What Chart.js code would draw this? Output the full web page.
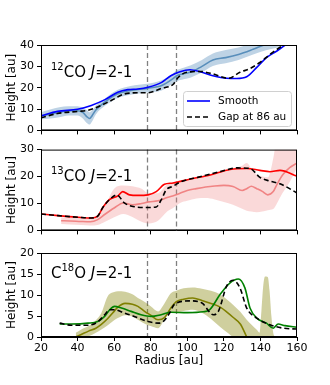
<!DOCTYPE html>
<html>
<head>
<meta charset="utf-8">
<script src="https://cdn.jsdelivr.net/npm/chart.js@4"></script>
<style>
  body { margin: 0; background: #fff; }
  #wrap { position: relative; width: 330px; height: 385px; }
  canvas { position: absolute; left: 0; }
</style>
</head>
<body>
<div id="wrap">
  <canvas id="p1" width="330" height="140" style="top:0px"></canvas>
  <canvas id="p2" width="330" height="100" style="top:140px"></canvas>
  <canvas id="p3" width="330" height="145" style="top:240px"></canvas>
</div>
<script>
// x ticks and gap edges
const radiusTicks = [20, 40, 60, 80, 100, 120, 140, 160];
const gapEdges = [78, 94];

// 12CO J=2-1
const co12SmoothR = [20, 29, 40, 47.5, 55, 62, 67.5, 73, 78.5, 86, 91, 96, 101.5, 107, 114, 121.5, 127, 132.5, 138, 143.3, 149, 153.4, 158];
const co12SmoothH = [6.8, 8.9, 9.9, 11.7, 14.4, 17.9, 19.1, 19.4, 20.2, 22.5, 25.6, 27.5, 28.4, 27.5, 25.6, 24.4, 24.3, 25.1, 29.5, 34.1, 37.2, 39.8, 42];
const co12GapR = [20, 29, 40, 45.7, 51, 58.4, 65.8, 73, 78.5, 85.8, 92.2, 95, 99.7, 107, 114.2, 122.4, 128.8, 134.3, 139.7, 145.2, 152.5, 158];
const co12GapH = [5.9, 7.9, 8.9, 9.4, 11, 14, 17.1, 17.6, 17.6, 19.7, 21.5, 24.8, 27.2, 27.6, 26.4, 24.4, 27.2, 29, 31.8, 35.6, 39.8, 42];
const co12BandR = [20, 25, 30, 35, 40, 43, 45, 46.6, 48, 50, 55, 62, 69, 78, 86, 92, 94, 98, 102, 108, 114, 121, 128, 136, 143, 150, 155, 160];
const co12BandMid = [6.8, 7.6, 8.4, 9.2, 9.2, 8.3, 6.5, 5.6, 7, 9.6, 13.3, 17.1, 18.7, 19.7, 21, 24.1, 25.5, 26.5, 27.3, 30, 33, 34.1, 35.6, 38, 40.3, 41.5, 42.5, 43];
const co12BandHigh = [8.5, 9.8, 10.8, 11.3, 11.3, 10.5, 9.5, 8.5, 9.5, 11.5, 15, 19, 20.8, 21.8, 23.5, 26.5, 28, 29.3, 30.5, 33, 36, 37.6, 38.8, 41, 43, 44, 45, 45];
const co12BandLow = [5.2, 5.6, 6.2, 7, 7, 5.5, 3.5, 2.8, 4.3, 7.5, 11.5, 15.2, 16.7, 17.7, 18.7, 21.8, 23, 24, 24.8, 27.2, 30.2, 31.5, 33, 35.5, 37.5, 39, 40, 41];

// 13CO J=2-1
const co13SmoothR = [20, 29.3, 40.2, 47.5, 51, 53.8, 57.4, 62, 64.7, 68.4, 73, 78.5, 83, 87.5, 92.2, 101.7, 112.6, 123.4, 132.5, 139.7, 145.2, 150.7, 159.8];
const co13SmoothH = [6.1, 5.5, 4.9, 4.6, 5.3, 8.5, 11.4, 12.8, 14.4, 13.2, 13, 13.2, 14.4, 17.1, 17.6, 19.1, 20.6, 22.6, 23, 22.3, 21.8, 22.3, 20.2];
const co13GapR = [20, 29.3, 40.2, 47.5, 51, 53.8, 57.4, 61.5, 65.6, 71, 78.5, 83, 85.8, 88.4, 92.2, 96, 107, 117.9, 127, 134.3, 139.7, 145.2, 150.7, 159.8];
const co13GapH = [6.1, 5.5, 4.9, 4.6, 5.3, 8.5, 11.4, 13.2, 10.2, 8.8, 8.5, 8.7, 11.4, 15, 16.4, 17.9, 19.9, 21.8, 23.2, 23, 19.7, 18.3, 17.3, 14];
const co13BandR = [31, 36, 42, 47, 51, 55, 60, 65, 70, 75, 79, 84, 89, 92, 96, 100, 105, 110, 115, 120, 125, 130, 132.5, 135, 138, 141, 144, 147, 149, 152, 156, 160];
const co13BandMid = [3.6, 3.5, 3.3, 3.2, 4, 6, 8.3, 10.2, 9.5, 10, 10.6, 11, 12.2, 12.8, 13.8, 14.8, 15.5, 16.1, 16.5, 16.7, 16.3, 14.8, 15.5, 16.4, 15.5, 14.5, 13.2, 14.4, 17, 20.5, 23.3, 25];
const co13BandHigh = [4.8, 4.8, 4.5, 4.3, 5.2, 9.2, 15.5, 16.7, 16.4, 15.5, 13.8, 13.8, 17, 17.5, 18, 18.8, 19.8, 20.6, 21.2, 22, 23, 24, 25, 23, 20.8, 20, 19.7, 26.7, 35, 40, 40, 40];
const co13BandLow = [2.4, 2.2, 2, 1.8, 2, 3.2, 4.9, 6.1, 5, 3.2, 2.6, 3.6, 7, 8.2, 10.2, 11, 11.8, 12, 11.5, 10.5, 9.5, 8, 7.3, 7, 6.7, 7, 7.5, 7.9, 10, 13.8, 18, 23.2];

// C18O J=2-1
const c18oSmoothR = [30.2, 36.6, 45.7, 51, 54.8, 57.6, 60.2, 64, 69.3, 74.7, 80.2, 85.7, 91.2, 100, 108.7, 112.3, 117.9, 123.4, 127.9, 131.5, 134.3, 138, 143.3, 147, 149.7, 153.4, 160];
const c18oSmoothH = [3.1, 3.1, 3.3, 3.7, 4.9, 6.5, 7.3, 6.9, 6.1, 5.3, 4.9, 5.3, 5.9, 5.8, 6, 6.5, 10.1, 12.9, 13.8, 11.7, 6.9, 4.5, 3.3, 2.1, 3.1, 2.7, 2.3];
const c18oGapR = [30.2, 36.6, 45.7, 51, 54.8, 57.6, 60.2, 65.6, 71, 78.5, 84, 86.6, 90.3, 93, 101.7, 108, 114.2, 117, 121.5, 125, 128.8, 132.5, 138, 145.2, 152.5, 160];
const c18oGapH = [3.3, 2.8, 2.8, 3.6, 5.3, 6.5, 6.5, 5.7, 4.9, 3.7, 3.3, 3.6, 5.7, 7.8, 8.6, 8.1, 5.3, 6.1, 12.1, 13.5, 11.7, 6.9, 4.5, 2.9, 2.1, 1.9];
const c18oBandR = [39, 42, 46, 50, 53, 56.5, 60, 62, 66, 70, 73, 77, 80, 84, 87.5, 91, 94, 98, 103, 108, 113, 118, 122, 125, 129, 132.5, 135, 138, 139.5, 140.5, 141.5, 142.5, 144, 145, 146, 147, 148];
const c18oBandMid = [0, 0.6, 1.4, 2.1, 3, 4.4, 6.1, 7.1, 8, 7.8, 7.3, 6, 5.2, 4.1, 4.6, 6.9, 8.4, 9, 9.3, 8.7, 8, 7.1, 5.8, 4.7, 3.1, 0, null, null, null, null, null, null, null, null, null, null, null];
const c18oBandHigh = [1, 1.8, 2.6, 4, 5.7, 9.7, 10.7, 10.9, 10.8, 10.2, 9.3, 8.3, 7.3, 6.1, 8, 10.4, 11, 11.6, 11.8, 11.5, 11, 10.1, 8.8, 7.7, 6, 4.1, 3, 1.7, 1, 6, 12, 14.4, 14.3, 11, 5, 1, 0];
const c18oBandLow = [0, 0, 0.2, 1, 1.8, 2.8, 4, 4.5, 5.2, 4.9, 4.1, 3.1, 2.6, 2.1, 4.1, 6, 5.8, 6.2, 6.5, 5.8, 4.3, 2.4, 1, 0.1, 0, 0, 0, 0, 0, 0, 0, 0, 0, 0, 0, 0, 0];

const FONT = "'DejaVu Sans', sans-serif";

function pts(xs, ys) {
  return xs.map((x, i) => ({ x: x, y: ys[i] }));
}

// black frame, gap lines, panel label and (optionally) legend
const panelDecor = {
  id: 'panelDecor',
  beforeDatasetsDraw(chart) {
    const ctx = chart.ctx;
    const a = chart.chartArea;
    const xs = chart.scales.x;
    ctx.save();
    ctx.strokeStyle = '#808080';
    ctx.lineWidth = 1.3;
    ctx.setLineDash([5, 3]);
    gapEdges.forEach(r => {
      const px = Math.round(xs.getPixelForValue(r)) + 0.5;
      ctx.beginPath();
      ctx.moveTo(px, a.top);
      ctx.lineTo(px, a.bottom);
      ctx.stroke();
    });
    ctx.restore();
  },
  afterDatasetsDraw(chart, args, opts) {
    const ctx = chart.ctx;
    const a = chart.chartArea;
    ctx.save();
    ctx.strokeStyle = '#000';
    ctx.lineWidth = 1;
    ctx.strokeRect(a.left + 0.5, a.top + 0.5, a.right - a.left - 1, a.bottom - a.top - 1);

    // label like 12CO J=2-1
    let x = a.left + 10;
    const y = a.top + opts.labelDy;
    ctx.fillStyle = '#000';
    ctx.textBaseline = 'alphabetic';
    opts.label.forEach(p => {
      if (p.sup) {
        ctx.font = '10px ' + FONT;
        ctx.fillText(p.t, x, y - 7);
      } else if (p.it) {
        ctx.font = 'italic 15px ' + FONT;
        ctx.fillText(p.t, x, y);
      } else {
        ctx.font = '15px ' + FONT;
        ctx.fillText(p.t, x, y);
      }
      x += ctx.measureText(p.t).width;
    });

    if (opts.legend) {
      const lx = 183, ly = a.top + 46, lw = 108, lh = 35;
      ctx.fillStyle = 'rgba(255,255,255,0.85)';
      ctx.strokeStyle = '#d0d0d0';
      ctx.lineWidth = 1;
      ctx.beginPath();
      ctx.roundRect(lx + 0.5, ly + 0.5, lw, lh, 3);
      ctx.fill();
      ctx.stroke();
      const items = [
        { t: 'Smooth', c: '#0000ff', dash: [] },
        { t: 'Gap at 86 au', c: '#000', dash: [5, 3] }
      ];
      ctx.font = '10.5px ' + FONT;
      ctx.textBaseline = 'middle';
      items.forEach((it, i) => {
        const yy = ly + 10 + i * 16;
        ctx.strokeStyle = it.c;
        ctx.lineWidth = 1.6;
        ctx.setLineDash(it.dash);
        ctx.beginPath();
        ctx.moveTo(lx + 4, yy);
        ctx.lineTo(lx + 27, yy);
        ctx.stroke();
        ctx.setLineDash([]);
        ctx.fillStyle = '#000';
        ctx.fillText(it.t, lx + 35, yy);
      });
    }
    ctx.restore();
  }
};

function makePanel(id, cfg) {
  const lineBase = { pointRadius: 0, borderWidth: 1.6, cubicInterpolationMode: 'monotone', fill: false };
  const datasets = [
    Object.assign({}, lineBase, { label: 'gap', data: pts(cfg.gapR, cfg.gapH), borderColor: '#000', borderDash: [5, 3], order: 0 }),
    Object.assign({}, lineBase, { label: 'smooth', data: pts(cfg.smoothR, cfg.smoothH), borderColor: cfg.color, order: 1 }),
    Object.assign({}, lineBase, { label: 'mid', data: pts(cfg.bandR, cfg.bandMid), borderColor: cfg.midColor, order: 2, spanGaps: false }),
    Object.assign({}, lineBase, { label: 'high', data: pts(cfg.bandR, cfg.bandHigh), borderWidth: 0, borderColor: 'rgba(0,0,0,0)', backgroundColor: cfg.fillColor, fill: 4, order: 3 }),
    Object.assign({}, lineBase, { label: 'low', data: pts(cfg.bandR, cfg.bandLow), borderWidth: 0, borderColor: 'rgba(0,0,0,0)', order: 4 })
  ];
  return new Chart(document.getElementById(id), {
    type: 'line',
    data: { datasets: datasets },
    plugins: [panelDecor],
    options: {
      responsive: false,
      animation: false,
      layout: { padding: { top: cfg.padTop, right: 33, left: 0, bottom: 0 } },
      plugins: {
        legend: { display: false },
        tooltip: { enabled: false },
        panelDecor: { label: cfg.label, labelDy: cfg.labelDy, legend: cfg.legend }
      },
      scales: {
        x: {
          type: 'linear',
          min: 20, max: 160,
          afterFit: s => { s.height = cfg.xHeight; },
          afterBuildTicks: s => { s.ticks = radiusTicks.map(v => ({ value: v })); },
          grid: { display: true, drawOnChartArea: false, tickLength: 4, color: '#000', tickWidth: 1 },
          border: { display: true, color: '#000', width: 1 },
          ticks: {
            display: cfg.showX,
            color: '#000',
            padding: 1,
            maxRotation: 0,
            font: { family: FONT, size: 11 }
          },
          title: {
            display: cfg.showX,
            text: 'Radius [au]',
            color: '#000',
            font: { family: FONT, size: 12 },
            padding: { top: 0, bottom: 17 }
          }
        },
        y: {
          min: 0, max: cfg.yMax,
          afterFit: s => { s.width = 41; },
          afterBuildTicks: s => { s.ticks = cfg.yTicks.map(v => ({ value: v })); },
          grid: { display: true, drawOnChartArea: false, tickLength: 4, color: '#000', tickWidth: 1 },
          border: { display: true, color: '#000', width: 1 },
          ticks: {
            color: '#000',
            padding: 3,
            font: { family: FONT, size: 11 }
          },
          title: {
            display: true,
            text: 'Height [au]',
            color: '#000',
            font: { family: FONT, size: 12 },
            padding: { top: 5, bottom: 0 }
          }
        }
      }
    }
  });
}

makePanel('p1', {
  smoothR: co12SmoothR, smoothH: co12SmoothH, gapR: co12GapR, gapH: co12GapH,
  bandR: co12BandR, bandMid: co12BandMid, bandHigh: co12BandHigh, bandLow: co12BandLow,
  color: '#0000ff', midColor: 'rgba(70,130,180,0.85)', fillColor: 'rgba(70,130,180,0.35)',
  yMax: 40, yTicks: [0, 10, 20, 30, 40], padTop: 45, xHeight: 9, showX: false,
  label: [{ t: '12', sup: true }, { t: 'CO ' }, { t: 'J', it: true }, { t: '=2-1' }], labelDy: 32,
  legend: true
});

makePanel('p2', {
  smoothR: co13SmoothR, smoothH: co13SmoothH, gapR: co13GapR, gapH: co13GapH,
  bandR: co13BandR, bandMid: co13BandMid, bandHigh: co13BandHigh, bandLow: co13BandLow,
  color: '#ff0000', midColor: 'rgba(240,128,128,0.95)', fillColor: 'rgba(240,128,128,0.3)',
  yMax: 30, yTicks: [0, 10, 20, 30], padTop: 9, xHeight: 6, showX: false,
  label: [{ t: '13', sup: true }, { t: 'CO ' }, { t: 'J', it: true }, { t: '=2-1' }], labelDy: 31,
  legend: false
});

makePanel('p3', {
  smoothR: c18oSmoothR, smoothH: c18oSmoothH, gapR: c18oGapR, gapH: c18oGapH,
  bandR: c18oBandR, bandMid: c18oBandMid, bandHigh: c18oBandHigh, bandLow: c18oBandLow,
  color: '#008000', midColor: '#808000', fillColor: 'rgba(128,128,0,0.38)',
  yMax: 20, yTicks: [0, 5, 10, 15, 20], padTop: 13, xHeight: 48, showX: true,
  label: [{ t: 'C' }, { t: '18', sup: true }, { t: 'O ' }, { t: 'J', it: true }, { t: '=2-1' }], labelDy: 25,
  legend: false
});
</script>
</body>
</html>
